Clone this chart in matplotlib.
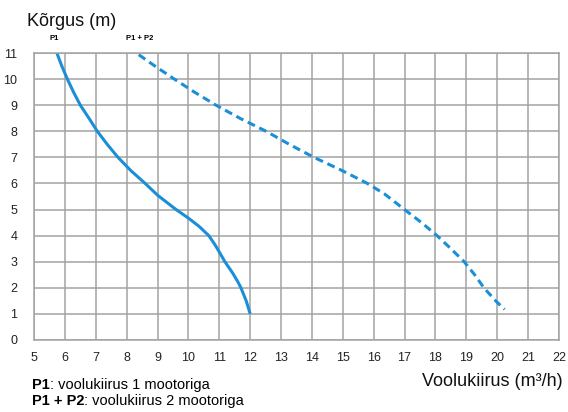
import matplotlib
matplotlib.use("Agg")
import matplotlib.pyplot as plt

# P1: one motor
p1_flow = [5.74, 5.9, 6.08, 6.28, 6.5, 6.78, 7.05, 7.37, 7.72, 8.13, 8.6, 9.0, 9.6,
           10.0, 10.34, 10.66, 10.86, 11.0, 11.18, 11.44, 11.6, 11.7, 11.87, 12.0]
p1_head = [11.0, 10.5, 10.0, 9.5, 9.0, 8.5, 8.0, 7.5, 7.0, 6.5, 6.0, 5.55, 5.0,
           4.67, 4.36, 4.0, 3.65, 3.37, 3.0, 2.55, 2.23, 2.0, 1.5, 1.0]

# P1 + P2: two motors
p12_flow = [8.39, 8.92, 9.55, 10.2, 10.9, 11.67, 12.52, 13.27, 14.07, 14.97, 15.8,
            16.35, 17.0, 17.55, 18.05, 18.5, 18.93, 19.27, 19.57, 19.95, 20.24]
p12_head = [10.94, 10.5, 10.0, 9.5, 9.0, 8.5, 8.0, 7.5, 7.0, 6.5, 6.0,
            5.6, 5.0, 4.5, 4.0, 3.5, 3.0, 2.5, 2.0, 1.5, 1.17]

x_ticks = list(range(5, 23))
y_ticks = list(range(0, 12))

blue = "#1a8fd8"
grid_gray = "#a3a3a3"

plt.rcParams['font.family'] = ['Liberation Sans', 'DejaVu Sans']

fig = plt.figure(figsize=(5.68, 4.12), dpi=100)
ax = fig.add_axes([0.060, 0.175, 0.924, 0.696])

ax.plot(p1_flow, p1_head, color=blue, lw=2.2, solid_capstyle='butt', solid_joinstyle='round')
ax.plot(p12_flow, p12_head, color=blue, lw=2.2, linestyle=(0, (2.6, 1.6)))

ax.set_xlim(5, 22)
ax.set_ylim(0, 11)
ax.set_xticks(x_ticks)
ax.set_yticks(y_ticks)
ax.grid(True, color=grid_gray, lw=1.1)
ax.set_axisbelow(True)
for s in ax.spines.values():
    s.set_color(grid_gray)
    s.set_linewidth(1.1)
ax.tick_params(length=0, labelsize=9, colors='#222222')
ax.tick_params(axis='x', pad=9)
ax.tick_params(axis='y', pad=12)

fig.text(27 / 568, 1 - 22 / 412, "Kõrgus (m)", fontsize=13, va='center', ha='left', color='#111111')
fig.text(50 / 568, 1 - 39 / 412, "P1", fontsize=5.5, fontweight='bold', va='center', ha='left')
fig.text(126 / 568, 1 - 39 / 412, "P1 + P2", fontsize=5.5, fontweight='bold', va='center', ha='left')
fig.text(563 / 568, 1 - 381 / 412, "Voolukiirus (m³/h)", fontsize=13, va='center', ha='right', color='#111111')

# footer: bold key followed by plain description
b1 = fig.text(32 / 568, 1 - 392 / 412, "P1", fontsize=10.5, fontweight='bold', va='bottom', ha='left')
ax.annotate(": voolukiirus 1 mootoriga", xy=(1, 0), xycoords=b1, fontsize=10.5, va='bottom', ha='left')
b2 = fig.text(32 / 568, 1 - 408 / 412, "P1 + P2", fontsize=10.5, fontweight='bold', va='bottom', ha='left')
ax.annotate(": voolukiirus 2 mootoriga", xy=(1, 0), xycoords=b2, fontsize=10.5, va='bottom', ha='left')

fig.savefig("out.png", dpi=100)
